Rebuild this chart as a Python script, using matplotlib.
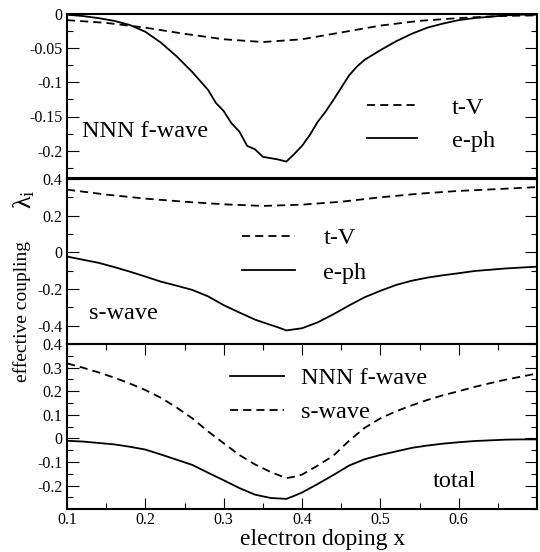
import matplotlib as mpl
mpl.use('Agg')
import matplotlib.pyplot as plt
from matplotlib.ticker import MultipleLocator

plt.rcParams['font.family'] = ['Liberation Serif', 'DejaVu Serif']
plt.rcParams['mathtext.fontset'] = 'stix'
plt.rcParams['axes.unicode_minus'] = False

# panel 1: NNN f-wave
x_f_eph = [0.10, 0.12, 0.14, 0.16, 0.18, 0.20, 0.22, 0.24, 0.26, 0.28, 0.29, 0.30,
           0.31, 0.32, 0.33, 0.34, 0.35, 0.36, 0.37, 0.38, 0.39, 0.40, 0.41, 0.42,
           0.43, 0.44, 0.45, 0.46, 0.47, 0.48, 0.49, 0.50, 0.52, 0.54, 0.56, 0.58,
           0.60, 0.62, 0.64, 0.66, 0.68, 0.70]
f_eph = [-0.001, -0.003, -0.006, -0.010, -0.016, -0.026, -0.042, -0.062, -0.085, -0.111,
         -0.130, -0.142, -0.160, -0.172, -0.193, -0.198, -0.209, -0.211, -0.213, -0.216,
         -0.205, -0.193, -0.177, -0.158, -0.143, -0.126, -0.108, -0.090, -0.077, -0.067,
         -0.060, -0.053, -0.040, -0.029, -0.020, -0.014, -0.009, -0.006, -0.004, -0.002,
         -0.001, -0.001]
x_f_tv = [0.10, 0.15, 0.20, 0.25, 0.30, 0.35, 0.40, 0.45, 0.50, 0.55, 0.60, 0.65, 0.70]
f_tv = [-0.009, -0.013, -0.020, -0.029, -0.037, -0.041, -0.037, -0.027, -0.017,
        -0.010, -0.006, -0.003, -0.002]

# panel 2: s-wave
x_s_eph = [0.10, 0.12, 0.14, 0.16, 0.18, 0.20, 0.22, 0.24, 0.26, 0.28, 0.30, 0.32,
           0.34, 0.36, 0.37, 0.38, 0.39, 0.40, 0.42, 0.44, 0.46, 0.48, 0.50, 0.52,
           0.54, 0.56, 0.58, 0.60, 0.62, 0.64, 0.66, 0.68, 0.70]
s_eph = [-0.023, -0.040, -0.057, -0.080, -0.105, -0.132, -0.160, -0.182, -0.205, -0.240,
         -0.288, -0.328, -0.367, -0.396, -0.410, -0.426, -0.420, -0.414, -0.382, -0.338,
         -0.290, -0.245, -0.210, -0.178, -0.155, -0.138, -0.125, -0.114, -0.102, -0.095,
         -0.088, -0.083, -0.078]
x_s_tv = [0.10, 0.15, 0.20, 0.25, 0.30, 0.35, 0.40, 0.45, 0.50, 0.55, 0.60, 0.65, 0.70]
s_tv = [0.342, 0.315, 0.293, 0.276, 0.262, 0.253, 0.260, 0.276, 0.300, 0.320, 0.335,
        0.345, 0.356]

# panel 3: total
x_tot = [0.10, 0.12, 0.14, 0.16, 0.18, 0.20, 0.22, 0.24, 0.26, 0.28, 0.30, 0.32, 0.34,
         0.36, 0.38, 0.39, 0.40, 0.42, 0.44, 0.46, 0.48, 0.50, 0.52, 0.54, 0.56, 0.58,
         0.60, 0.62, 0.64, 0.66, 0.68, 0.70]
tot_f = [-0.010, -0.013, -0.019, -0.025, -0.035, -0.047, -0.068, -0.090, -0.112, -0.145,
         -0.177, -0.210, -0.238, -0.252, -0.256, -0.243, -0.229, -0.193, -0.155, -0.115,
         -0.088, -0.070, -0.055, -0.040, -0.030, -0.022, -0.016, -0.011, -0.008, -0.005,
         -0.004, -0.004]
tot_s = [0.318, 0.300, 0.280, 0.258, 0.233, 0.205, 0.172, 0.131, 0.085, 0.030, -0.020,
         -0.070, -0.110, -0.142, -0.168, -0.162, -0.153, -0.115, -0.073, -0.010, 0.045,
         0.085, 0.115, 0.140, 0.163, 0.183, 0.200, 0.218, 0.234, 0.249, 0.262, 0.275]

lw = 1.3
dash = (4.5, 2.8)
leg_fs = 17.5

fig = plt.figure(figsize=(5.4, 5.52), dpi=100)
L, W = 67/540, 470/540
ax1 = fig.add_axes([L, 1-178/552, W, 164/552])
ax2 = fig.add_axes([L, 1-344/552, W, 165/552])
ax3 = fig.add_axes([L, 1-509.3/552, W, 165.3/552])

def style(ax, ylim, minor, xticks):
    ax.set_xlim(0.1, 0.7)
    ax.set_ylim(*ylim)
    ax.yaxis.set_minor_locator(MultipleLocator(minor))
    for s in ax.spines.values():
        s.set_linewidth(1.5)
    ax.tick_params(axis='y', which='both', direction='in', left=True, right=True,
                   labelsize=11.5, width=0.8)
    ax.tick_params(axis='y', which='major', length=8.5)
    ax.tick_params(axis='y', which='minor', length=4.3)
    if xticks:
        ax.tick_params(axis='x', which='both', direction='in', top=True, bottom=True,
                       labelsize=11.5, width=0.8, pad=2)
        ax.tick_params(axis='x', which='major', length=8)
        ax.tick_params(axis='x', which='minor', length=4)
        ax.set_xticks([0.1, 0.2, 0.3, 0.4, 0.5, 0.6])
        ax.set_xticklabels(['0.1', '0.2', '0.3', '0.4', '0.5', '0.6'])
        ax.set_xticks([0.15, 0.25, 0.35, 0.45, 0.55, 0.65], minor=True)
    else:
        ax.tick_params(axis='x', which='both', bottom=False, top=False, labelbottom=False)

style(ax1, (-0.24, 0), 0.025, False)
ax1.set_yticks([0, -0.05, -0.1, -0.15, -0.2])
ax1.set_yticklabels(['0', '-0.05', '-0.1', '-0.15', '-0.2'])
style(ax2, (-0.5, 0.4), 0.1, False)
ax2.set_yticks([0.4, 0.2, 0, -0.2, -0.4])
ax2.set_yticklabels(['0.4', '0.2', '0', '-0.2', '-0.4'])
style(ax3, (-0.3, 0.4), 0.05, True)
ax3.set_yticks([0.4, 0.3, 0.2, 0.1, 0, -0.1, -0.2])
ax3.set_yticklabels(['0.4', '0.3', '0.2', '0.1', '0', '-0.1', '-0.2'])

ax1.plot(x_f_tv, f_tv, 'k', lw=lw, dashes=dash, label='t-V')
ax1.plot(x_f_eph, f_eph, 'k-', lw=lw, label='e-ph')
ax1.legend(loc='center left', bbox_to_anchor=(0.638, 0.3285), frameon=False,
           fontsize=leg_fs, handlelength=2.06, handletextpad=1.44, labelspacing=0.45,
           borderpad=0, borderaxespad=0)
ax1.text(0.032, 0.252, 'NNN f-wave', transform=ax1.transAxes, fontsize=leg_fs,
         va='baseline')

ax2.plot(x_s_tv, s_tv, 'k', lw=lw, dashes=dash, label='t-V')
ax2.plot(x_s_eph, s_eph, 'k-', lw=lw, label='e-ph')
ax2.legend(loc='center left', bbox_to_anchor=(0.372, 0.5365), frameon=False,
           fontsize=leg_fs, handlelength=2.2, handletextpad=1.15, labelspacing=0.5,
           borderpad=0, borderaxespad=0)
ax2.text(0.046, 0.150, 's-wave', transform=ax2.transAxes, fontsize=leg_fs,
         va='baseline')

ax3.plot(x_tot, tot_f, 'k-', lw=lw, label='NNN f-wave')
ax3.plot(x_tot, tot_s, 'k', lw=lw, dashes=dash, label='s-wave')
ax3.legend(loc='center left', bbox_to_anchor=(0.347, 0.689), frameon=False,
           fontsize=leg_fs, handlelength=2.2, handletextpad=0.7, labelspacing=0.5,
           borderpad=0, borderaxespad=0)
ax3.text(0.778, 0.137, 'total', transform=ax3.transAxes, fontsize=leg_fs,
         va='baseline')
ax3.set_xlabel('electron doping x', fontsize=17, labelpad=0)
ax3.xaxis.label.set_va('baseline')
ax3.xaxis.set_label_coords(0.543, -0.214)

fig.text(22/540, 1-312/552, 'effective coupling', rotation=90, ha='center',
         va='center', fontsize=14)
fig.text(24/540, 1-199/552, r'$\mathregular{\lambda_i}$', rotation=90, ha='center',
         va='center', fontsize=19)

plt.savefig('out.png', dpi=100)
